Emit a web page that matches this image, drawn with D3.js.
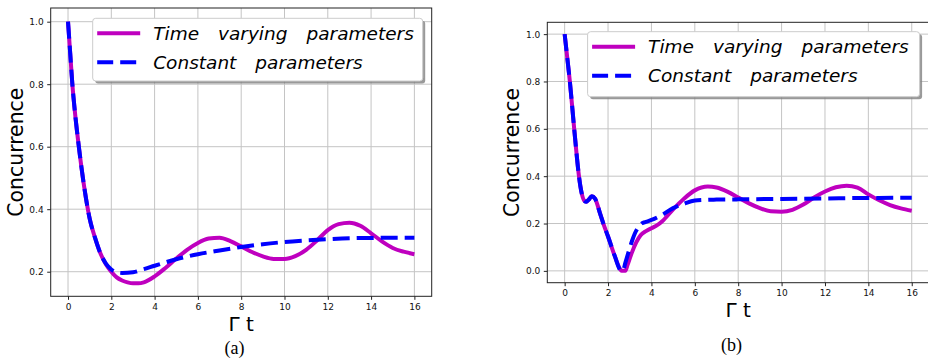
<!DOCTYPE html>
<html>
<head>
<meta charset="utf-8">
<script src="https://cdn.jsdelivr.net/npm/d3@7"></script>
<style>
  html, body { margin: 0; padding: 0; background: #fff; }
  svg { display: block; }
  text { font-family: "DejaVu Sans", sans-serif; }
</style>
</head>
<body>
<svg id="chart" width="928" height="358"></svg>
<script>
// ---------- DATA ----------
const xTicks = [0, 2, 4, 6, 8, 10, 12, 14, 16];
const yTicksA = [0.2, 0.4, 0.6, 0.8, 1.0];
const yTicksB = [0.0, 0.2, 0.4, 0.6, 0.8, 1.0];

const seriesNames = ["Time varying parameters", "Constant parameters"];
const yLabel = "Concurrence";
const xLabel = "Γ t";
const panelLabels = ["(a)", "(b)"];

// Panel (a)
const tA_tv = [0, 0.1, 0.2, 0.35, 0.5, 0.75, 1.0, 1.25, 1.5, 1.75, 2.0, 2.25, 2.5, 2.75, 3.0, 3.25, 3.5, 4.0, 4.5, 5.0, 5.5, 6.0, 6.5, 7.0, 7.5, 8.0, 8.5, 9.0, 9.5, 10.0, 10.5, 11.0, 11.5, 12.0, 12.5, 13.0, 13.5, 14.0, 14.5, 15.0, 15.5, 16.0];
const vA_tv = [1.0, 0.9, 0.80, 0.69, 0.60, 0.47, 0.37, 0.308, 0.258, 0.224, 0.200, 0.182, 0.172, 0.166, 0.163, 0.163, 0.166, 0.185, 0.212, 0.242, 0.270, 0.292, 0.306, 0.309, 0.298, 0.281, 0.263, 0.249, 0.241, 0.241, 0.250, 0.270, 0.300, 0.333, 0.352, 0.357, 0.347, 0.323, 0.297, 0.276, 0.264, 0.256];
const tA_c = [0, 0.1, 0.2, 0.35, 0.5, 0.75, 1.0, 1.25, 1.5, 1.75, 2.0, 2.25, 2.5, 3.0, 3.5, 4.0, 5.0, 6.0, 7.0, 8.0, 9.0, 10.0, 11.0, 12.0, 13.0, 14.0, 15.0, 16.0];
const vA_c = [1.0, 0.9, 0.80, 0.69, 0.60, 0.47, 0.37, 0.308, 0.258, 0.226, 0.207, 0.198, 0.196, 0.198, 0.208, 0.219, 0.240, 0.256, 0.268, 0.279, 0.288, 0.295, 0.300, 0.304, 0.307, 0.308, 0.309, 0.309];

// Panel (b)
const tB_tv = [0, 0.12, 0.24, 0.44, 0.66, 0.72, 0.8, 0.9, 1.0, 1.1, 1.25, 1.4, 1.63, 1.8, 2.0, 2.32, 2.55, 2.62, 2.8, 2.9, 3.09, 3.3, 3.5, 3.75, 4.0, 4.25, 4.5, 5.0, 5.5, 6.0, 6.6, 7.0, 7.5, 8.0, 8.5, 9.0, 9.5, 10.0, 10.5, 11.0, 11.5, 12.0, 12.5, 13.0, 13.5, 14.0, 14.5, 15.0, 15.5, 16.0];
const vB_tv = [1.0, 0.9, 0.8, 0.6, 0.4, 0.36, 0.322, 0.297, 0.292, 0.300, 0.315, 0.305, 0.243, 0.195, 0.145, 0.06, 0.008, 0.0, 0.0, 0.025, 0.075, 0.12, 0.15, 0.168, 0.18, 0.192, 0.21, 0.26, 0.305, 0.34, 0.356, 0.352, 0.335, 0.31, 0.285, 0.265, 0.252, 0.25, 0.258, 0.28, 0.31, 0.335, 0.353, 0.36, 0.352, 0.323, 0.298, 0.278, 0.264, 0.254];
const tB_c = [0, 0.12, 0.24, 0.44, 0.66, 0.72, 0.8, 0.9, 1.0, 1.1, 1.25, 1.4, 1.63, 1.8, 2.0, 2.32, 2.55, 2.6, 2.68, 2.8, 2.93, 3.1, 3.24, 3.4, 3.55, 3.75, 4.0, 4.5, 5.0, 5.5, 6.0, 6.5, 7.0, 8.0, 10.0, 12.0, 14.0, 16.0];
const vB_c = [1.0, 0.9, 0.8, 0.6, 0.4, 0.36, 0.322, 0.297, 0.292, 0.300, 0.315, 0.305, 0.243, 0.195, 0.145, 0.06, 0.005, 0.0, 0.0, 0.035, 0.075, 0.125, 0.159, 0.185, 0.2, 0.207, 0.215, 0.237, 0.265, 0.283, 0.297, 0.300, 0.301, 0.302, 0.304, 0.306, 0.308, 0.309];

// ---------- LAYOUT ----------
const panels = [
  { left: 50.7, top: 8, width: 381, height: 288.3, xDomain: [-0.8, 16.8], yDomain: [0.1213, 1.0438],
    yTicks: yTicksA, tv: [tA_tv, vA_tv], c: [tA_c, vA_c],
    legend: { x: 92.7, y: 18.3, w: 330, h: 62.7 },
    yLabelX: 22.7, xLabelY: 330.7, panelLabel: panelLabels[0], panelLabelX: 234.5, panelLabelY: 354 },
  { left: 547.3, top: 22.3, width: 381.8, height: 260.4, xDomain: [-0.8, 16.8], yDomain: [-0.05, 1.05],
    yTicks: yTicksB, tv: [tB_tv, vB_tv], c: [tB_c, vB_c],
    legend: { x: 587.6, y: 31.7, w: 332, h: 65 },
    yLabelX: 519, xLabelY: 316.7, panelLabel: panelLabels[1], panelLabelX: 731.5, panelLabelY: 351 }
];

const colTV = "#bf00bf";
const colC = "#0000ff";
const svg = d3.select("#chart");

panels.forEach(p => {
  const x = d3.scaleLinear().domain(p.xDomain).range([p.left, p.left + p.width]);
  const y = d3.scaleLinear().domain(p.yDomain).range([p.top + p.height, p.top]);
  const g = svg.append("g");

  // grid
  g.append("g").selectAll("line").data(xTicks).join("line")
    .attr("x1", d => x(d)).attr("x2", d => x(d))
    .attr("y1", p.top).attr("y2", p.top + p.height)
    .attr("stroke", "#c4c4c4").attr("stroke-width", 1);
  g.append("g").selectAll("line").data(p.yTicks).join("line")
    .attr("x1", p.left).attr("x2", p.left + p.width)
    .attr("y1", d => y(d)).attr("y2", d => y(d))
    .attr("stroke", "#c4c4c4").attr("stroke-width", 1);

  // lines
  const line = d3.line().x(d => x(d[0])).y(d => y(d[1])).curve(d3.curveMonotoneX);
  const tvData = p.tv[0].map((t, i) => [t, p.tv[1][i]]);
  const cData = p.c[0].map((t, i) => [t, p.c[1][i]]);
  g.append("path").datum(tvData).attr("d", line)
    .attr("fill", "none").attr("stroke", colTV).attr("stroke-width", 4);
  g.append("path").datum(cData).attr("d", line)
    .attr("fill", "none").attr("stroke", colC).attr("stroke-width", 4)
    .attr("stroke-dasharray", "17,7");

  // spines
  g.append("rect").attr("x", p.left).attr("y", p.top).attr("width", p.width).attr("height", p.height)
    .attr("fill", "none").attr("stroke", "#222").attr("stroke-width", 1);

  // axes
  const xa = g.append("g").attr("transform", `translate(0,${p.top + p.height})`)
    .call(d3.axisBottom(x).tickValues(xTicks).tickFormat(d3.format("d")).tickSize(3.5).tickPadding(3.5));
  const ya = g.append("g").attr("transform", `translate(${p.left},0)`)
    .call(d3.axisLeft(y).tickValues(p.yTicks).tickFormat(d3.format(".1f")).tickSize(3.5).tickPadding(3.5));
  [xa, ya].forEach(a => {
    a.select(".domain").remove();
    a.selectAll("line").attr("stroke", "#222").attr("stroke-width", 1);
    a.selectAll("text").attr("font-size", 9).attr("fill", "#111").attr("font-family", "DejaVu Sans");
  });

  // axis labels
  svg.append("text").attr("transform", `translate(${p.yLabelX},${p.top + p.height / 2}) rotate(-90)`)
    .attr("text-anchor", "middle").attr("font-size", 20.4).attr("fill", "#000").text(yLabel);
  svg.append("text").attr("x", p.left + p.width / 2).attr("y", p.xLabelY)
    .attr("text-anchor", "middle").attr("font-size", 20).attr("fill", "#000").text(xLabel);
  svg.append("text").attr("x", p.panelLabelX).attr("y", p.panelLabelY)
    .attr("text-anchor", "middle").attr("font-size", 18).attr("fill", "#000")
    .style("font-family", "'Liberation Serif', 'Times New Roman', serif").text(p.panelLabel);

  // legend
  const L = p.legend;
  const lg = svg.append("g");
  lg.append("rect").attr("x", L.x + 2.5).attr("y", L.y + 2.5).attr("width", L.w).attr("height", L.h)
    .attr("rx", 3).attr("fill", "#7f7f7f").attr("opacity", 0.8);
  lg.append("rect").attr("x", L.x).attr("y", L.y).attr("width", L.w).attr("height", L.h)
    .attr("rx", 3).attr("fill", "#fff").attr("stroke", "#cccccc").attr("stroke-width", 1);
  const items = [
    { name: seriesNames[0], color: colTV, dash: null, dy: 15 },
    { name: seriesNames[1], color: colC, dash: "16,7", dy: 44 }
  ];
  items.forEach(it => {
    lg.append("line").attr("x1", L.x + 4.5).attr("x2", L.x + 47.5)
      .attr("y1", L.y + it.dy).attr("y2", L.y + it.dy)
      .attr("stroke", it.color).attr("stroke-width", 4)
      .attr("stroke-dasharray", it.dash);
    const tx = lg.append("text").attr("x", L.x + 60.5).attr("y", L.y + it.dy + 6.7)
      .attr("font-size", 18.5).attr("font-style", "italic").attr("fill", "#000");
    it.name.split(" ").forEach((w, i) => {
      tx.append("tspan").attr("dx", i === 0 ? 0 : 19).text(w);
    });
  });
});
</script>
</body>
</html>
